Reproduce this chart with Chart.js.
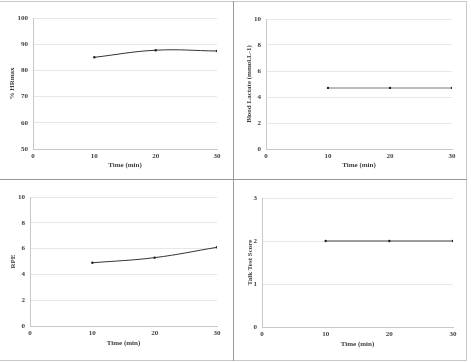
<!DOCTYPE html>
<html>
<head>
<meta charset="utf-8">
<script src="https://cdn.jsdelivr.net/npm/chart.js@4"></script>
<style>
  html, body { margin: 0; padding: 0; background: #fff; }
  #wrap { position: relative; width: 471px; height: 362px; overflow: hidden; }
  canvas { position: absolute; left: 0; top: 0; }
  .rule { position: absolute; background: #c8c8c8; }
</style>
</head>
<body>
<div id="wrap">
  <div class="rule" style="left:0;top:1px;width:467px;height:1px;"></div>
  <div class="rule" style="left:0;top:360px;width:467px;height:1px;"></div>
  <div class="rule" style="left:466px;top:1px;width:1px;height:360px;"></div>
  <div class="rule" style="left:233px;top:1px;width:1px;height:360px;background:#999;"></div>
  <div class="rule" style="left:0;top:179px;width:467px;height:1px;background:#999;"></div>
  <canvas id="hr" width="471" height="362"></canvas>
  <canvas id="lac" width="471" height="362"></canvas>
  <canvas id="rpe" width="471" height="362"></canvas>
  <canvas id="talk" width="471" height="362"></canvas>
</div>
<script>
// Time points (min)
const timeMin = [10, 20, 30];
const hrMax = [85, 87.7, 87.4];      // % HRmax
const lactate = [4.7, 4.7, 4.7];     // mmol.L-1
const rpe = [4.9, 5.3, 6.1];
const talkTest = [2, 2, 2];

const FONT = { family: '"Liberation Serif", "Times New Roman", serif', size: 7, weight: 'bold' };
const TEXT = '#404040';

// Build one small panel; box = where the plot area should sit on the page
function makePanel(id, values, yMin, yMax, yStep, yTitle, box, lineColor, lineWidth, tension) {
    const lh = 8;
    return new Chart(document.getElementById(id), {
        type: 'line',
        data: {
            datasets: [{
                data: timeMin.map((t, i) => ({ x: t, y: values[i] })),
                borderColor: lineColor,
                borderWidth: lineWidth,
                pointRadius: 1.2,
                pointBackgroundColor: '#222',
                pointBorderWidth: 0,
                tension: tension
            }]
        },
        options: {
            responsive: false,
            animation: false,
            events: [],
            layout: {
                padding: {
                    left: box.titleX - lh / 2,
                    top: box.top,
                    right: 471 - box.right,
                    bottom: 362 - (box.xTitleY + lh / 2)
                }
            },
            plugins: { legend: { display: false }, tooltip: { enabled: false } },
            scales: {
                x: {
                    type: 'linear',
                    min: 0, max: 30,
                    ticks: { stepSize: 10, color: TEXT, font: FONT, padding: 3, maxRotation: 0 },
                    grid: { display: false, drawTicks: false },
                    border: { color: '#c8c8c8' },
                    title: { display: true, text: 'Time (min)', color: TEXT, font: FONT, padding: 0 },
                    afterFit: s => { s.height = box.xTitleY + lh / 2 - box.bottom; }
                },
                y: {
                    min: yMin, max: yMax,
                    ticks: { stepSize: yStep, color: TEXT, font: FONT, padding: 5 },
                    grid: { color: '#e8e8e8', drawTicks: false },
                    border: { color: '#c8c8c8' },
                    title: { display: true, text: yTitle, color: TEXT, font: FONT, padding: 0 },
                    afterFit: s => { s.width = box.left - (box.titleX - lh / 2); }
                }
            }
        }
    });
}

makePanel('hr', hrMax, 50, 100, 10, '% HRmax',
    { left: 33, right: 217, top: 18, bottom: 149, titleX: 12, xTitleY: 165 }, '#333', 1, 0.4);
makePanel('lac', lactate, 0, 10, 2, 'Blood Lactate (mmol.L-1)',
    { left: 266, right: 452, top: 19, bottom: 149, titleX: 249, xTitleY: 165 }, '#a6a6a6', 1.5, 0);
makePanel('rpe', rpe, 0, 10, 2, 'RPE',
    { left: 30, right: 217, top: 197, bottom: 326, titleX: 13, xTitleY: 343 }, '#333', 1, 0.4);
makePanel('talk', talkTest, 0, 3, 1, 'Talk Test Score',
    { left: 262, right: 453, top: 198, bottom: 327, titleX: 250, xTitleY: 344 }, '#7f7f7f', 1.5, 0);
</script>
</body>
</html>
